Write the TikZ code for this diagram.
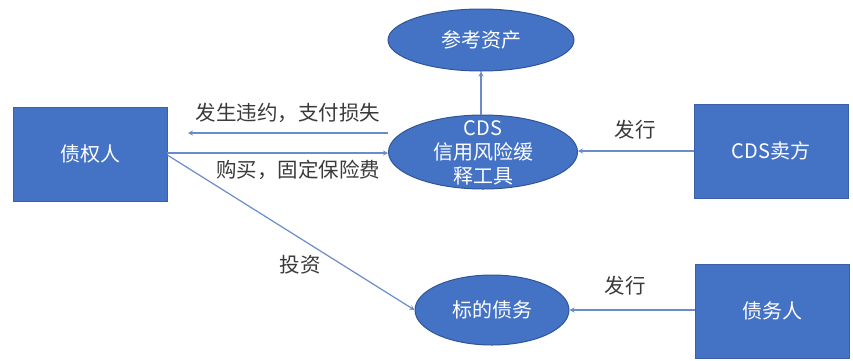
\documentclass[tikz,border=0pt]{standalone}
\usepackage{fontspec}
\setmainfont{Noto Sans CJK SC}
\usetikzlibrary{arrows.meta,shapes.geometric}
\definecolor{boxblue}{HTML}{4472C4}
\definecolor{edgeblue}{HTML}{2F5597}
\definecolor{linkblue}{HTML}{6A8CCB}
\definecolor{labelgray}{HTML}{3A3A3A}
\tikzset{
  party/.style={rectangle, fill=boxblue, draw=boxblue!85!black, line width=0.6pt,
    minimum width=154pt, minimum height=94pt, inner sep=0pt, text=white,
    font=\fontsize{20}{24}\selectfont},
  oval/.style={ellipse, fill=boxblue, draw=edgeblue, line width=1pt,
    inner sep=0pt, text=white, font=\fontsize{20}{24}\selectfont},
  arr/.style={draw=linkblue, line width=1.2pt, -{Stealth[length=5pt,width=5pt]}},
  lbl/.style={text=labelgray, inner sep=0pt, font=\fontsize{20.5}{24}\selectfont}
}
\begin{document}
\begin{tikzpicture}[x=1pt,y=-1pt]
\useasboundingbox (0,0) rectangle (853,360);
% nodes
\node[party] (cred) at (90,154) {债权人};
\node[party] (seller) at (771,151) {CDS卖方};
\node[party] (debtor) at (772,311) {债务人};
\node[oval, minimum width=186pt, minimum height=62pt] (ref) at (481,40) {参考资产};
\node[oval, minimum width=189pt, minimum height=74pt] (cds) at (483,152)
  {\raisebox{-15pt}{\smash{\begin{tabular}{@{}c@{}}CDS\\信用风险缓\\释工具\end{tabular}}}};
\node[oval, minimum width=154pt, minimum height=70pt] (bond) at (492,310) {标的债务};
% free end
\coordinate (lossend) at (188,133);
% connectors
\draw[arr] (cds.north -| ref.south) -- (ref.south);
\draw[arr] (cds.west |- lossend) -- (lossend);
\draw[arr] (cred.east |- 0,153) -- (cds.west |- 0,153);
\draw[arr] (seller.west) -- (seller.west -| cds.east);
\draw[arr] (cred.east |- 0,155) -- (bond.west);
\draw[arr] (debtor.west |- bond.east) -- (bond.east);
% labels
\node[lbl] (l1) at (288,113) {发生违约，支付损失};
\node[lbl] (l2) at (298,170) {购买，固定保险费};
\node[lbl] (l3) at (635,130) {发行};
\node[lbl] (l4) at (300,265) {投资};
\node[lbl] (l5) at (625,286) {发行};
\end{tikzpicture}
\end{document}
